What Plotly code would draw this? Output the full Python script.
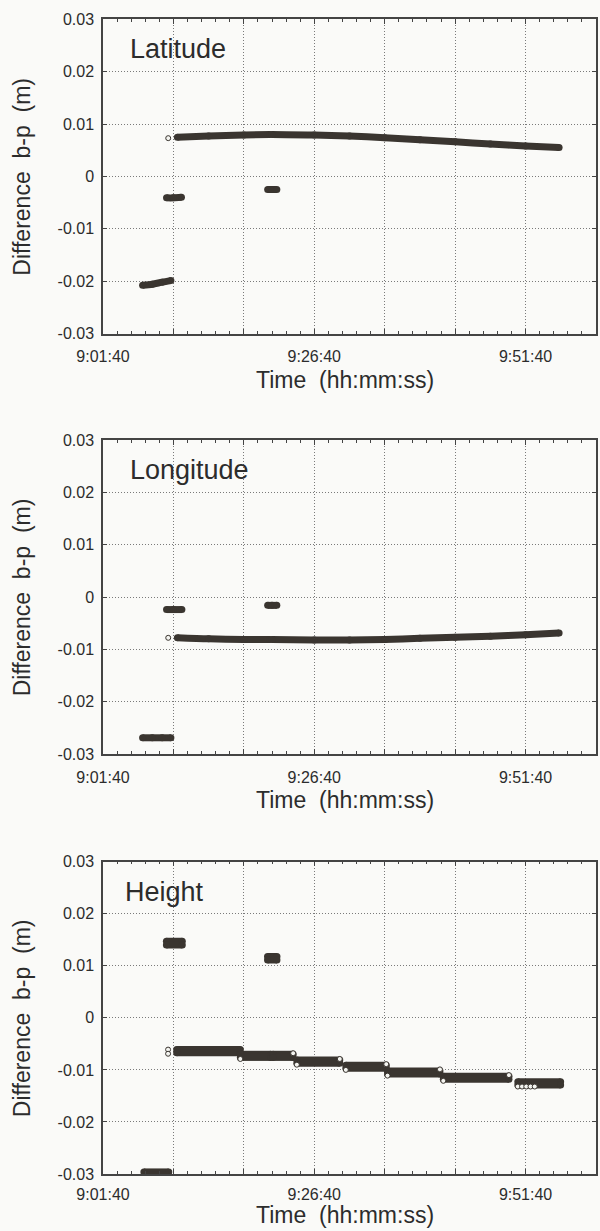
import plotly.graph_objects as go

# ---------------- data (time in seconds of day, values in metres) ----------------
TICK_TIMES = [32500, 34000, 35500]
TICK_LABELS = ["9:01:40", "9:26:40", "9:51:40"]
Y_TICKS = [0.03, 0.02, 0.01, 0.0, -0.01, -0.02, -0.03]
Y_LABELS = ["0.03", "0.02", "0.01", "0", "-0.01", "-0.02", "-0.03"]

# Latitude
lat_a_t = [32781, 32850, 32920, 32982]
lat_a_v = [-0.0208, -0.0206, -0.0202, -0.0199]
lat_b_t = [32951, 33000, 33057]
lat_b_v = [-0.0041, -0.0041, -0.0040]
lat_c_t = [33669, 33700, 33734]
lat_c_v = [-0.0025, -0.0025, -0.0025]
lat_m1_t = [33028, 33250, 33500, 33685]
lat_m1_v = [0.0075, 0.0077, 0.0079, 0.0080]
lat_m2_t = [33700, 34000, 34250, 34500, 34750, 35000, 35250, 35500, 35738]
lat_m2_v = [0.0080, 0.0079, 0.0077, 0.0074, 0.0070, 0.0066, 0.0062, 0.0058, 0.0055]
lat_open_t = [32963]
lat_open_v = [0.0073]

# Longitude
lon_a_t = [32781, 32850, 32920, 32982]
lon_a_v = [-0.0269, -0.0269, -0.0269, -0.0269]
lon_b_t = [32951, 33000, 33060]
lon_b_v = [-0.0024, -0.0024, -0.0024]
lon_c_t = [33669, 33700, 33734]
lon_c_v = [-0.0016, -0.0016, -0.0016]
lon_m1_t = [33028, 33250, 33500, 33685]
lon_m1_v = [-0.0078, -0.0080, -0.0081, -0.0081]
lon_m2_t = [33700, 34000, 34250, 34500, 34750, 35000, 35250, 35500, 35738]
lon_m2_v = [-0.0081, -0.0082, -0.0082, -0.0081, -0.0079, -0.0077, -0.0075, -0.0072, -0.0069]
lon_open_t = [32963]
lon_open_v = [-0.0078]

# Height: blocks of quantised values (start time, end time, upper level, lower level)
h_start = [32790, 32950, 33668, 33023, 33475, 33705, 33876, 34224, 34520, 34916, 35445]
h_end = [32967, 33063, 33735, 33475, 33692, 33850, 34181, 34511, 34892, 35382, 35749]
h_upper = [-0.0296, 0.0147, 0.0118, -0.0061, -0.0070, -0.0070, -0.0081, -0.0091, -0.0102, -0.0112, -0.0123]
h_lower = [-0.0302, 0.0140, 0.0111, -0.0067, -0.0076, -0.0076, -0.0087, -0.0097, -0.0108, -0.0118, -0.0129]
h_open_t = [32962, 32962, 33475, 33850, 33876, 34181, 34224, 34511, 34520, 34892, 34916, 35382,
            35445, 35475, 35505, 35535, 35565]
h_open_v = [-0.0061, -0.0069, -0.0079, -0.0068, -0.0090, -0.0079, -0.0100, -0.0089, -0.0111,
            -0.0099, -0.0121, -0.0110, -0.0132, -0.0132, -0.0132, -0.0132, -0.0132]

PANELS = ["Latitude", "Longitude", "Height"]

# ---------------- styling / layout ----------------
INK = "#3a3530"
TXT = "#2c2c2c"
BG = "#fafaf8"
GRID = "#7a7a7a"
FONT = "Liberation Sans, Arial, Helvetica, sans-serif"

W, H = 600, 1231
ML, MR, MT, MB = 103, 2, 19, 57
PH = H - MT - MB


def py(pix):
    return (H - MB - pix) / PH


def px(pix):
    return (pix - ML) / (W - ML - MR)


panel_px = [(19.3, 333.5), (440.0, 754.0), (861.7, 1174.0)]
xlabel_standoff = [8, 8, 5]
xtitle_center = [380, 800, 1215]

fig = go.Figure()


def add_seg(t, v, i, w):
    fig.add_trace(go.Scatter(
        x=t, y=v, mode="lines+markers",
        line=dict(color=INK, width=w, shape="spline", smoothing=0.8),
        marker=dict(size=w, color=INK, line=dict(width=0)),
        cliponaxis=False, showlegend=False, hoverinfo="skip",
        xaxis="x" if i == 0 else f"x{i+1}", yaxis="y" if i == 0 else f"y{i+1}"))


def add_open(t, v, i, s):
    fig.add_trace(go.Scatter(
        x=t, y=v, mode="markers",
        marker=dict(size=s, color="#f4f4f0", line=dict(width=1, color=INK)),
        cliponaxis=False, showlegend=False, hoverinfo="skip",
        xaxis="x" if i == 0 else f"x{i+1}", yaxis="y" if i == 0 else f"y{i+1}"))


# Latitude
for t, v in [(lat_a_t, lat_a_v), (lat_b_t, lat_b_v), (lat_c_t, lat_c_v),
             (lat_m1_t, lat_m1_v), (lat_m2_t, lat_m2_v)]:
    add_seg(t, v, 0, 7)
add_open(lat_open_t, lat_open_v, 0, 5)

# Longitude
for t, v in [(lon_a_t, lon_a_v), (lon_b_t, lon_b_v), (lon_c_t, lon_c_v),
             (lon_m1_t, lon_m1_v), (lon_m2_t, lon_m2_v)]:
    add_seg(t, v, 1, 7)
add_open(lon_open_t, lon_open_v, 1, 5)

# Height
for s, e, u, l in zip(h_start, h_end, h_upper, h_lower):
    add_seg([s, e], [u, u], 2, 7)
    add_seg([s, e], [l, l], 2, 7)
add_open(h_open_t, h_open_v, 2, 5)

grid_vals = list(range(32500, 36001, 500))
grid_text = [TICK_LABELS[TICK_TIMES.index(g)] if g in TICK_TIMES else "" for g in grid_vals]

layout = dict(
    width=W, height=H,
    margin=dict(l=ML, r=MR, t=MT, b=MB),
    paper_bgcolor=BG, plot_bgcolor=BG,
    font=dict(family=FONT, color=TXT),
    showlegend=False,
    annotations=[],
)

for i, (top, bot) in enumerate(panel_px):
    xk = "xaxis" if i == 0 else f"xaxis{i+1}"
    yk = "yaxis" if i == 0 else f"yaxis{i+1}"
    xa = "x" if i == 0 else f"x{i+1}"
    ya = "y" if i == 0 else f"y{i+1}"
    layout[xk] = dict(
        domain=[0, 1], anchor=ya, range=[32500, 36000],
        tickmode="array", tickvals=grid_vals, ticktext=grid_text,
        ticks="inside", ticklen=5, tickcolor="#444", tickwidth=1,
        minor=dict(tickmode="linear", tick0=32500, dtick=100, ticks="inside",
                   ticklen=3, tickcolor="#444", showgrid=False),
        showline=True, linecolor="#444", linewidth=1.5, mirror="ticks",
        showgrid=True, gridcolor=GRID, gridwidth=1, griddash="1px,2px",
        zeroline=False, tickfont=dict(size=16, color=TXT),
        ticklabelstandoff=xlabel_standoff[i], fixedrange=True,
    )
    layout[yk] = dict(
        domain=[py(bot), py(top)], anchor=xa, range=[-0.03, 0.03],
        tickmode="array", tickvals=Y_TICKS, ticktext=Y_LABELS,
        ticks="inside", ticklen=4, tickcolor="#444",
        showline=True, linecolor="#444", linewidth=1.5, mirror="ticks",
        showgrid=True, gridcolor=GRID, gridwidth=1, griddash="1px,2px",
        zeroline=False, tickfont=dict(size=16, color=TXT),
        ticklabelstandoff=4, fixedrange=True,
    )
    # panel label
    layout["annotations"].append(dict(
        text=PANELS[i], xref="paper", yref="paper",
        x=px(128 if i < 2 else 123), y=py(top + 30), xanchor="left", yanchor="middle",
        showarrow=False, font=dict(size=27, color=TXT, family=FONT)))
    # x title
    layout["annotations"].append(dict(
        text="Time\u00a0\u00a0(hh:mm:ss)", xref="paper", yref="paper",
        x=px(346), y=py(xtitle_center[i]), xanchor="center", yanchor="middle",
        showarrow=False, font=dict(size=23, color=TXT, family=FONT)))
    # y title
    layout["annotations"].append(dict(
        text="Difference\u00a0\u00a0b-p\u00a0\u00a0(m)", xref="paper", yref="paper",
        x=px(22), y=py((top + bot) / 2), xanchor="center", yanchor="middle",
        textangle=-90, showarrow=False, font=dict(size=23, color=TXT, family=FONT)))

fig.update_layout(**layout)
fig.write_html("out.html")
